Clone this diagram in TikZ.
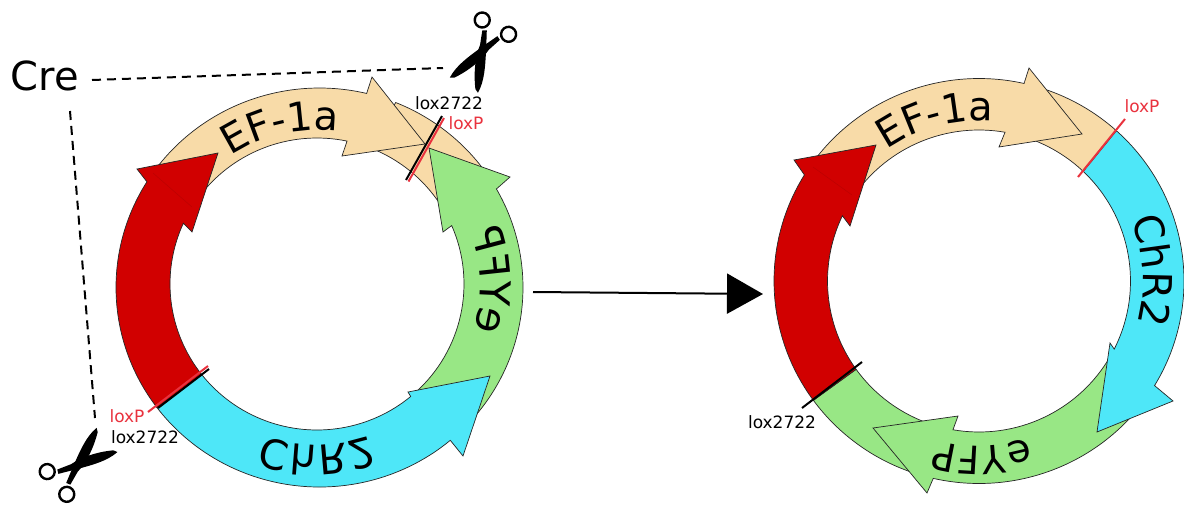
\documentclass[tikz,border=0pt]{standalone}
\usepackage{fontspec}
\setmainfont{DejaVu Sans}
\usetikzlibrary{arrows.meta,calc,decorations.text}
\definecolor{BeigeClr}{RGB}{248,219,168}
\definecolor{RedClr}{RGB}{209,0,0}
\definecolor{SeamClr}{RGB}{190,0,0}
\definecolor{GreenClr}{RGB}{152,231,133}
\definecolor{CyanClr}{RGB}{78,231,248}
\definecolor{LoxClr}{RGB}{233,50,62}
\tikzset{
  partshape/.style={draw=black!85,line width=0.7pt,line join=miter},
  seamline/.style={draw=SeamClr,line width=0.6pt},
  outerL/.style={x radius=203.5,y radius=199.5},
  innerL/.style={x radius=147,y radius=146},
  outerR/.style={x radius=205,y radius=202.5},
  innerR/.style={x radius=151.5,y radius=151},
  creline/.style={line width=2pt,dash pattern=on 9pt off 6pt},
  loxlabel/.style={font=\fontsize{17}{17}\selectfont,inner sep=0pt},
  loxred/.style={draw=LoxClr,line width=2pt},
  loxblack/.style={draw=black,line width=2pt},
  partlabel/.style={decorate,decoration={text along path,text align=center,text={#1}}},
  flippedlabel/.style={decorate,decoration={text along path,text align=center,transform={yscale=-1},text={#1}}},
  scissorsicon/.pic={
    \fill[black] (40,16) .. controls (26,16) and (14,10) .. (-2,2.5) -- (-19,-6) -- (-17,-10) -- (-3,-5) .. controls (8,-4) and (24,2) .. (38,12) -- cycle;
    \fill[black] (40,-16) .. controls (26,-16) and (14,-10) .. (-2,-2.5) -- (-19,6) -- (-17,10) -- (-3,5) .. controls (8,4) and (24,-2) .. (38,-12) -- cycle;
    \draw[black,line width=2.4pt] (-26,15) circle (7.5);
    \draw[black,line width=2.4pt] (-26,-15) circle (7.5);
  }
}
\newcommand{\OutL}[1]{($(CenterOutL)+(#1:203.5 and 199.5)$)}
\newcommand{\InL}[1]{($(CenterInL)+(#1:147 and 146)$)}
\newcommand{\OutR}[1]{($(CenterR)+(#1:205 and 202.5)$)}
\newcommand{\InR}[1]{($(CenterR)+(#1:151.5 and 151)$)}
\newcommand{\PartFont}[1]{\fontsize{#1}{#1}\selectfont}

\begin{document}
\begin{tikzpicture}[x=1pt,y=1pt,yscale=-1]
\useasboundingbox (0,0) rectangle (1184,504);

\coordinate (CenterOutL) at (319.5,287.5);
\coordinate (CenterInL) at (317,284);
\coordinate (CenterR) at (979,281);

% Left plasmid.
\draw[partshape,fill=BeigeClr] \OutL{292} arc[outerL,start angle=292,end angle=328] -- \InL{328} arc[innerL,start angle=328,end angle=290] -- cycle;
\draw[partshape,fill=BeigeClr] \OutL{216} arc[outerL,start angle=216,end angle=283.4] -- (372,77) -- (425,144) -- (342,156) -- \InL{281.8} arc[innerL,start angle=281.8,end angle=215] -- cycle;
\draw[partshape,fill=GreenClr] \OutL{-29.6} arc[outerL,start angle=-29.6,end angle=43] -- \InL{48} arc[innerL,start angle=48,end angle=-23.6] -- (443,232) -- (429,148) -- (510,177) -- cycle;
\draw[partshape,fill=CyanClr] \OutL{143} arc[outerL,start angle=143,end angle=50] -- (463,456) -- (490,376) -- (408,392) -- \InL{50.4} arc[innerL,start angle=50.4,end angle=141.7] -- cycle;
\draw[partshape,fill=RedClr] \OutL{143} arc[outerL,start angle=143,end angle=212] -- (137,169) -- (218,153) -- (192,232) -- \InL{204.6} arc[innerL,start angle=204.6,end angle=141.7] -- cycle;
\draw[seamline] (153,173) -- (192,207);

% Right plasmid.
\draw[partshape,fill=BeigeClr] \OutR{287} arc[outerR,start angle=287,end angle=312.1] -- \InR{313.5} arc[innerR,start angle=313.5,end angle=290] -- cycle;
\draw[partshape,fill=BeigeClr] \OutR{216} arc[outerR,start angle=216,end angle=282.7] -- (1029,68) -- (1082,134) -- (999,147) -- \InR{279.9} arc[innerR,start angle=279.9,end angle=215] -- cycle;
\draw[partshape,fill=GreenClr] \OutR{107} arc[outerR,start angle=107,end angle=143.9] -- \InR{144.2} arc[innerR,start angle=144.2,end angle=108] -- cycle;
\draw[partshape,fill=GreenClr] \OutR{42} arc[outerR,start angle=42,end angle=102.9] -- (927,493) -- (873,428) -- (958,416) -- \InR{99.9} arc[innerR,start angle=99.9,end angle=30] -- cycle;
\draw[partshape,fill=CyanClr] \OutR{-47.9} arc[outerR,start angle=-47.9,end angle=31.1] -- (1173,401) -- (1097,432) -- (1110,343) -- \InR{26.8} arc[innerR,start angle=26.8,end angle=-46.5] -- cycle;
\draw[partshape,fill=RedClr] \OutR{143.9} arc[outerR,start angle=143.9,end angle=211.6] -- (794,160) -- (876,145) -- (850,226) -- \InR{205.6} arc[innerR,start angle=205.6,end angle=144.2] -- cycle;
\draw[seamline] (813,167) -- (852,195);

% Recombination sites.
\draw[loxblack] (406,180) -- (442,116);
\draw[loxred] (408.5,181.5) -- (444,118);
\draw[loxred] (148,412) -- (208,366);
\draw[loxblack] (158,408) -- (209,369);
\draw[loxred] (1078,177) -- (1125,119);
\draw[loxblack] (802,408) -- (862,362);

% Flipped labels on the left plasmid.
\coordinate (LabelL) at (317,285);
\path[flippedlabel={|\PartFont{41}|ChR2}] ($(LabelL)+(125:160)$) arc[start angle=125,end angle=55,radius=160];
\path[flippedlabel={|\PartFont{42}|eYFP}] ($(LabelL)+(35:163)$) arc[start angle=35,end angle=-38,radius=163];

% Upright labels.
\begin{scope}[yscale=-1]
\path[partlabel={|\PartFont{40}|EF-1a}] ($(LabelL)+(-227:155)$) arc[start angle=-227,end angle=-287,radius=155];
\path[partlabel={|\PartFont{40}|EF-1a}] ($(CenterR)+(-225:160)$) arc[start angle=-225,end angle=-285,radius=160];
\path[partlabel={|\PartFont{40}|ChR2}] ($(CenterR)+(45:164)$) arc[start angle=45,end angle=-38,radius=164];
\path[partlabel={|\PartFont{39}|eYFP}] ($(CenterR)+(-50:165)$) arc[start angle=-50,end angle=-128,radius=165];
\end{scope}

\node[font=\PartFont{40},inner sep=0pt] (Cre) at (45,76) {Cre};
\node[loxlabel] (LoxTopBlack) at (449,103) {lox2722};
\node[loxlabel,text=LoxClr] (LoxTopRed) at (466,123) {loxP};
\node[loxlabel,text=LoxClr] (LoxBottomRed) at (127,416) {loxP};
\node[loxlabel] (LoxBottomBlack) at (145,437) {lox2722};
\node[loxlabel,text=LoxClr] (LoxRightRed) at (1142,106) {loxP};
\node[loxlabel] (LoxRightBlack) at (782,422) {lox2722};

\pic at (483,50) [rotate=-118.5] {scissorsicon};
\pic at (76.7,466) [rotate=40.7] {scissorsicon};

\coordinate (CreTop) at (92,80);
\coordinate (CutTop) at (443,68);
\coordinate (CreBottom) at (70,111);
\coordinate (CutBottom) at (95,418);
\draw[creline] (CreTop) -- (CutTop);
\draw[creline] (CreBottom) -- (CutBottom);

\coordinate (ArrowStart) at (533,292);
\coordinate (ArrowEnd) at (763,294);
\draw[line width=2pt,-{Triangle[length=36pt,width=40pt]}] (ArrowStart) -- (ArrowEnd);

\end{tikzpicture}
\end{document}
